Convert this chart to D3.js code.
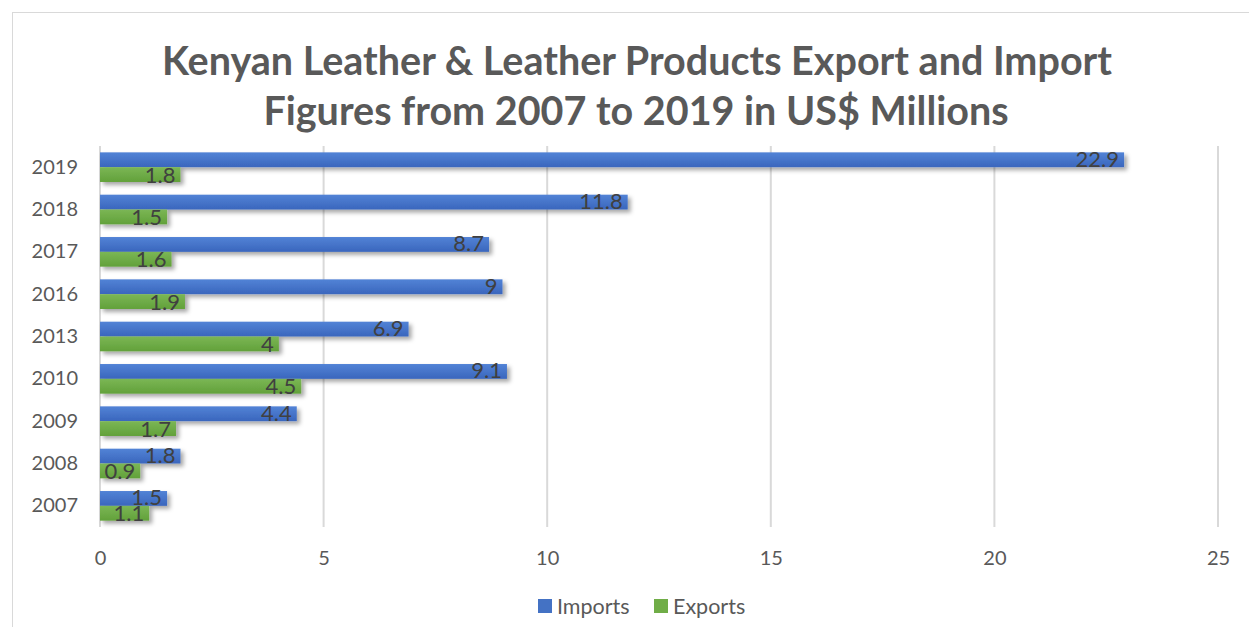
<!DOCTYPE html>
<html>
<head>
<meta charset="utf-8">
<script src="https://cdn.jsdelivr.net/npm/d3@7"></script>
<style>
  body { margin: 0; background: #fff; }
  text { font-family: Lato, "Open Sans", sans-serif; }
</style>
</head>
<body>
<svg id="chart" width="1249" height="627"></svg>
<script>
// Data (top to bottom)
const years = ["2019", "2018", "2017", "2016", "2013", "2010", "2009", "2008", "2007"];
const imports = [22.9, 11.8, 8.7, 9, 6.9, 9.1, 4.4, 1.8, 1.5];
const exports = [1.8, 1.5, 1.6, 1.9, 4, 4.5, 1.7, 0.9, 1.1];
const xTicks = [0, 5, 10, 15, 20, 25];
const seriesNames = ["Imports", "Exports"];

const width = 1249, height = 627;
const margin = { top: 146, right: 31, bottom: 100, left: 100 };

const svg = d3.select("#chart");

// chart border
svg.append("rect")
  .attr("x", 12.5).attr("y", 12.5)
  .attr("width", width).attr("height", height)
  .attr("fill", "none").attr("stroke", "#d9d9d9");

// shadow
const defs = svg.append("defs");
const f = defs.append("filter").attr("id", "shadow")
  .attr("x", "-5%").attr("y", "-50%").attr("width", "120%").attr("height", "250%");
f.append("feDropShadow").attr("dx", 3).attr("dy", 3).attr("stdDeviation", 2)
  .attr("flood-color", "#000").attr("flood-opacity", 0.35);

const gradBlue = defs.append("linearGradient").attr("id", "gBlue")
  .attr("x1", 0).attr("y1", 0).attr("x2", 0).attr("y2", 1);
gradBlue.append("stop").attr("offset", "0%").attr("stop-color", "#5283d6");
gradBlue.append("stop").attr("offset", "100%").attr("stop-color", "#3a66bd");
const gradGreen = defs.append("linearGradient").attr("id", "gGreen")
  .attr("x1", 0).attr("y1", 0).attr("x2", 0).attr("y2", 1);
gradGreen.append("stop").attr("offset", "0%").attr("stop-color", "#7bb655");
gradGreen.append("stop").attr("offset", "100%").attr("stop-color", "#62a13a");

// Title
const title = svg.append("text")
  .attr("x", 637).attr("text-anchor", "middle")
  .attr("fill", "#595959").attr("font-weight", "bold").attr("font-size", 39.5);
title.append("tspan").attr("x", 637).attr("y", 75)
  .text("Kenyan Leather & Leather Products Export and Import");
title.append("tspan").attr("x", 636).attr("y", 125)
  .text("Figures from 2007 to 2019 in US$ Millions");

// Scales
const x = d3.scaleLinear().domain([0, 25])
  .range([margin.left, width - margin.right]);
const y = d3.scaleBand().domain(years)
  .range([margin.top, height - margin.bottom])
  .paddingInner(0.3).paddingOuter(0.15);
const barH = y.bandwidth() / 2;

// Gridlines
svg.append("g")
  .selectAll("line")
  .data(xTicks)
  .join("line")
  .attr("x1", d => x(d)).attr("x2", d => x(d))
  .attr("y1", margin.top).attr("y2", height - margin.bottom)
  .attr("stroke", "#d9d9d9").attr("stroke-width", 2);

// X axis labels
const xAxis = svg.append("g")
  .attr("transform", `translate(0,${height - margin.bottom})`)
  .call(d3.axisBottom(x).tickValues(xTicks).tickSize(0).tickPadding(24));
xAxis.select(".domain").remove();
xAxis.selectAll("text").attr("font-size", 20).attr("fill", "#595959")
  .attr("font-family", "Lato, 'Open Sans', sans-serif");

// Y axis labels
const yAxis = svg.append("g")
  .attr("transform", `translate(${margin.left},0)`)
  .call(d3.axisLeft(y).tickSize(0).tickPadding(22));
yAxis.select(".domain").remove();
yAxis.selectAll("text").attr("font-size", 20).attr("fill", "#595959")
  .attr("font-family", "Lato, 'Open Sans', sans-serif");

const rows = years.map((yr, i) => ({ yr, imp: imports[i], exp: exports[i] }));

// Bars
const bars = svg.append("g").attr("filter", "url(#shadow)");
bars.selectAll(".imp")
  .data(rows).join("rect")
  .attr("x", x(0)).attr("y", d => y(d.yr))
  .attr("width", d => x(d.imp) - x(0)).attr("height", barH)
  .attr("fill", "url(#gBlue)");
bars.selectAll(".exp")
  .data(rows).join("rect")
  .attr("class", "exp")
  .attr("x", x(0)).attr("y", d => y(d.yr) + barH)
  .attr("width", d => x(d.exp) - x(0)).attr("height", barH)
  .attr("fill", "url(#gGreen)");

// Data labels at inside end
const labels = svg.append("g").attr("font-size", 22).attr("fill", "#404040")
  .attr("text-anchor", "end");
labels.selectAll(".li").data(rows).join("text")
  .attr("x", d => x(d.imp) - 5).attr("y", d => y(d.yr) + barH / 2 + 7)
  .text(d => d.imp);
labels.selectAll(".le").data(rows).join("text")
  .attr("class", "le")
  .attr("x", d => x(d.exp) - 5).attr("y", d => y(d.yr) + barH * 1.5 + 8)
  .text(d => d.exp);

// Legend
const legend = svg.append("g").attr("transform", "translate(538,606)");
const legItems = [
  { name: seriesNames[0], color: "#4472c4", dx: 0 },
  { name: seriesNames[1], color: "#70ad47", dx: 116 }
];
const li = legend.selectAll("g").data(legItems).join("g")
  .attr("transform", d => `translate(${d.dx},0)`);
li.append("rect").attr("x", 0).attr("y", -7).attr("width", 14).attr("height", 14)
  .attr("fill", d => d.color);
li.append("text").attr("x", 19).attr("y", 7.5).attr("font-size", 21.5)
  .attr("fill", "#595959").text(d => d.name);
</script>
</body>
</html>
